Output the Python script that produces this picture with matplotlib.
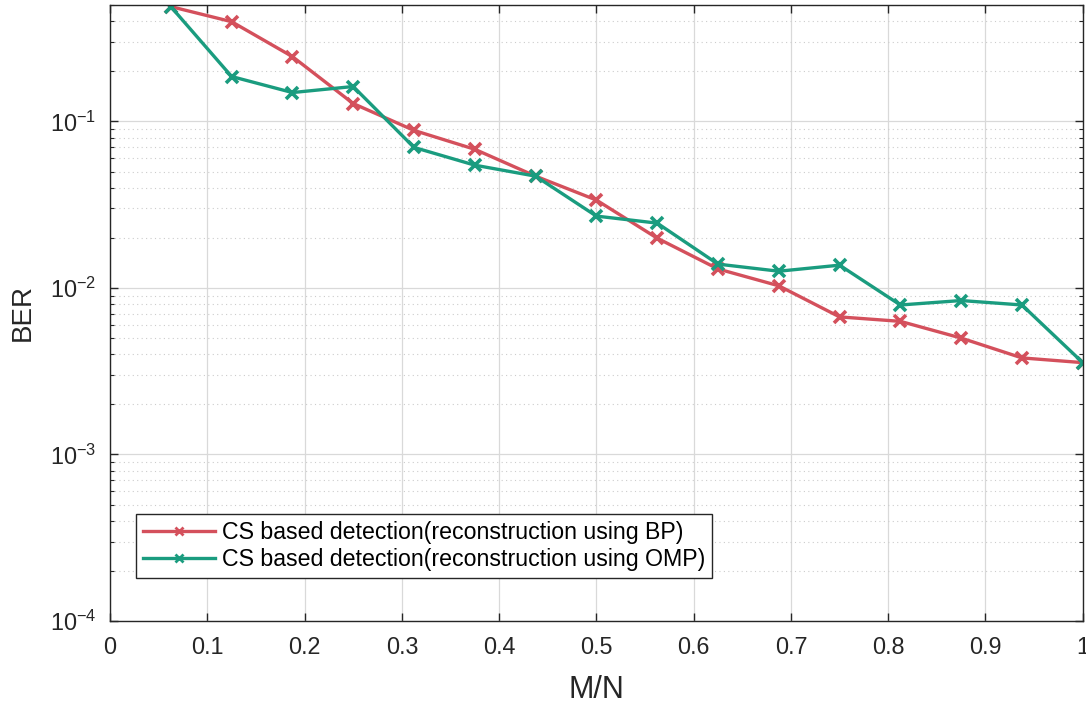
import numpy as np
import matplotlib
matplotlib.use("Agg")
import matplotlib.pyplot as plt
from matplotlib.ticker import LogLocator, FixedLocator

# M/N ratios and BER for both reconstruction methods
mn = [1/16, 2/16, 3/16, 4/16, 5/16, 6/16, 7/16, 8/16,
      9/16, 10/16, 11/16, 12/16, 13/16, 14/16, 15/16, 16/16]
ber_bp = [0.489, 0.397, 0.245, 0.128, 0.0883, 0.068, 0.0469, 0.0337,
          0.0199, 0.013, 0.0103, 0.0067, 0.0063, 0.0050, 0.0038, 0.00356]
ber_omp = [0.489, 0.186, 0.149, 0.162, 0.0698, 0.0546, 0.0469, 0.027,
           0.0245, 0.0139, 0.0126, 0.0137, 0.0079, 0.0084, 0.0079, 0.00356]
labels = ["CS based detection(reconstruction using BP)",
          "CS based detection(reconstruction using OMP)"]

plt.rcParams['font.family'] = ['Liberation Sans', 'DejaVu Sans']
plt.rcParams['axes.unicode_minus'] = False
plt.rcParams['mathtext.fontset'] = 'custom'
plt.rcParams['mathtext.rm'] = 'Liberation Sans'
plt.rcParams['mathtext.it'] = 'Liberation Sans:italic'
plt.rcParams['mathtext.bf'] = 'Liberation Sans:bold'
text_col = '#262626'

fig = plt.figure(figsize=(10.86, 7.04), dpi=100)
ax = fig.add_axes([0.1013, 0.1179, 0.8957, 0.8750])

ax.plot(mn, ber_bp, color='#D4505C', lw=2.4, marker='x', ms=9, mew=2.6, label=labels[0])
ax.plot(mn, ber_omp, color='#1A9C7F', lw=2.4, marker='x', ms=9, mew=2.6, label=labels[1])

ax.set_yscale('log')
ax.set_xlim(0, 1)
ax.set_ylim(1e-4, 0.5)
ax.set_xticks(np.arange(0, 1.01, 0.1))
ax.set_xticklabels(['0', '0.1', '0.2', '0.3', '0.4', '0.5', '0.6', '0.7', '0.8', '0.9', '1'])
ax.yaxis.set_major_locator(FixedLocator([1e-4, 1e-3, 1e-2, 1e-1]))
ax.yaxis.set_minor_locator(LogLocator(base=10, subs=np.arange(2, 10)))

ax.grid(True, which='major', color='#d9d9d9', lw=0.9)
ax.grid(True, which='minor', axis='y', color='#cccccc', lw=0.8, ls=(0, (1, 3)))
ax.set_axisbelow(True)

ax.tick_params(which='both', direction='in', top=True, right=True,
               labelsize=16.8, colors=text_col)
ax.tick_params(axis='x', pad=11)
ax.tick_params(axis='y', pad=10)
ax.tick_params(which='major', length=6, width=1)
ax.tick_params(which='minor', length=3, width=0.8)
for s in ax.spines.values():
    s.set_color('#262626')
    s.set_linewidth(1)

ax.set_xlabel('M/N', fontsize=22, color=text_col, labelpad=11)
ax.set_ylabel('BER', fontsize=20, color=text_col, labelpad=10)

leg = ax.legend(loc='lower left', bbox_to_anchor=(0.027, 0.07), borderaxespad=0,
                fontsize=16.7, fancybox=False, framealpha=1, edgecolor='#262626',
                handlelength=3.1, borderpad=0.3, labelspacing=0.18, handletextpad=0.3)
leg.get_frame().set_linewidth(1)
for h in leg.legend_handles:
    h.set_markersize(6)
    h.set_markeredgewidth(2)

fig.savefig('out.png', dpi=100)
